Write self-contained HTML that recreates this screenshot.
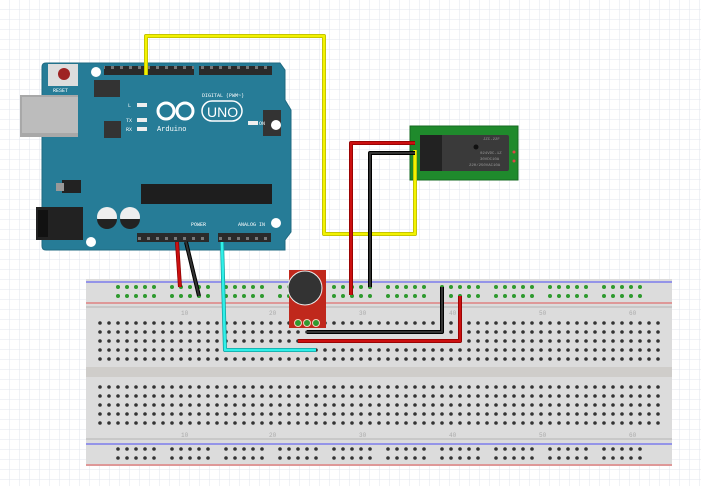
<!DOCTYPE html>
<html><head><meta charset="utf-8"><style>
html,body{margin:0;padding:0;background:#fff;}
svg{display:block;font-family:"Liberation Mono",monospace;}
</style></head><body>
<svg width="701" height="486" viewBox="0 0 701 486" xmlns="http://www.w3.org/2000/svg">
<defs>
<pattern id="grid" width="10" height="10" patternUnits="userSpaceOnUse">
<path d="M10 0V10H0" fill="none" stroke="#e2e5ee" stroke-width="1"/>
</pattern>
<pattern id="hole" x="95.5" y="318.5" width="9" height="9" patternUnits="userSpaceOnUse">
<circle cx="4.5" cy="4.5" r="1.8" fill="#333"/>
</pattern>
<pattern id="hole2" x="95.5" y="382.5" width="9" height="9" patternUnits="userSpaceOnUse">
<circle cx="4.5" cy="4.5" r="1.8" fill="#333"/>
</pattern>
<pattern id="railg" x="113.5" y="282.5" width="54" height="9" patternUnits="userSpaceOnUse">
<g fill="#2e9a2e"><circle cx="4.5" cy="4.5" r="2"/><circle cx="13.5" cy="4.5" r="2"/><circle cx="22.5" cy="4.5" r="2"/><circle cx="31.5" cy="4.5" r="2"/><circle cx="40.5" cy="4.5" r="2"/></g>
</pattern>
<pattern id="railb" x="113.5" y="444.5" width="54" height="9" patternUnits="userSpaceOnUse">
<g fill="#333"><circle cx="4.5" cy="4.5" r="1.8"/><circle cx="13.5" cy="4.5" r="1.8"/><circle cx="22.5" cy="4.5" r="1.8"/><circle cx="31.5" cy="4.5" r="1.8"/><circle cx="40.5" cy="4.5" r="1.8"/></g>
</pattern>
<pattern id="pins" x="0" y="0" width="9" height="9" patternUnits="userSpaceOnUse">
<rect x="3" y="3" width="3" height="3" fill="#777"/>
</pattern>
</defs>
<rect width="701" height="486" fill="url(#grid)"/>

<!-- breadboard -->
<rect x="86" y="279" width="586" height="187" fill="#dcdcdc"/>
<rect x="86" y="306" width="586" height="2" fill="#c8c8c8"/>
<rect x="86" y="367" width="586" height="10" fill="#cfcdca"/>
<rect x="86" y="438" width="586" height="2" fill="#c8c8c8"/>
<line x1="86" y1="282" x2="672" y2="282" stroke="#6a6af0" stroke-width="1.2"/>
<line x1="86" y1="303" x2="672" y2="303" stroke="#e07070" stroke-width="1.2"/>
<line x1="86" y1="444" x2="672" y2="444" stroke="#6a6af0" stroke-width="1.2"/>
<line x1="86" y1="465" x2="672" y2="465" stroke="#e07070" stroke-width="1.2"/>
<rect x="113" y="282" width="536" height="18" fill="url(#railg)"/>
<rect x="113" y="444" width="536" height="18" fill="url(#railb)"/>
<rect x="95" y="318" width="567" height="45" fill="url(#hole)"/>
<rect x="95" y="382" width="567" height="45" fill="url(#hole2)"/>
<g font-size="6" fill="#aaa">
<text x="181" y="315">10</text><text x="269" y="315">20</text><text x="359" y="315">30</text><text x="449" y="315">40</text><text x="539" y="315">50</text><text x="629" y="315">60</text>
<text x="181" y="437">10</text><text x="269" y="437">20</text><text x="359" y="437">30</text><text x="449" y="437">40</text><text x="539" y="437">50</text><text x="629" y="437">60</text>
</g>

<!-- arduino -->
<path d="M46 63 H280 L285 70 V100 L291 110 V232 L285 240 V250 H46 Q42 250 42 246 V67 Q42 63 46 63Z" fill="#267c97" stroke="#1f6a82" stroke-width="1"/>
<rect x="20" y="95" width="58" height="42" fill="#a8a8a8"/><rect x="22" y="97" width="56" height="36" fill="#bcbcbc"/>
<rect x="36" y="207" width="47" height="33" fill="#222"/><rect x="38" y="210" width="10" height="27" fill="#111"/>
<rect x="48" y="64" width="30" height="22" fill="#ddd"/><circle cx="64" cy="74" r="6" fill="#9e2323"/>
<text x="53" y="92" font-size="5" fill="#fff">RESET</text>
<rect x="94" y="80" width="26" height="17" fill="#333"/>
<rect x="104" y="66" width="90" height="9" fill="#2a2a2a"/><rect x="104" y="66" width="90" height="9" fill="url(#pins)"/>
<rect x="199" y="66" width="73" height="9" fill="#2a2a2a"/><rect x="199" y="66" width="73" height="9" fill="url(#pins)"/>
<rect x="137" y="233" width="72" height="9" fill="#2a2a2a"/><rect x="137" y="233" width="72" height="9" fill="url(#pins)"/>
<rect x="218" y="233" width="53" height="9" fill="#2a2a2a"/><rect x="218" y="233" width="53" height="9" fill="url(#pins)"/>
<rect x="263" y="110" width="18" height="26" fill="#333"/>
<rect x="104" y="121" width="17" height="17" fill="#333"/>
<rect x="141" y="184" width="131" height="20" fill="#1e1e1e"/>
<rect x="62" y="180" width="19" height="13" fill="#222"/><rect x="56" y="183" width="8" height="8" fill="#999"/>
<circle cx="107" cy="217" r="10" fill="#eee"/><path d="M97 219 A10 10 0 0 0 117 219Z" fill="#222"/>
<circle cx="130" cy="217" r="10" fill="#eee"/><path d="M120 219 A10 10 0 0 0 140 219Z" fill="#222"/>
<circle cx="96" cy="72" r="5" fill="#fff"/><circle cx="276" cy="125" r="5" fill="#fff"/><circle cx="276" cy="223" r="5" fill="#fff"/><circle cx="91" cy="242" r="5" fill="#fff"/>
<rect x="137" y="103" width="10" height="4" fill="#eee"/><rect x="137" y="118" width="10" height="4" fill="#eee"/><rect x="137" y="127" width="10" height="4" fill="#eee"/><rect x="248" y="121" width="10" height="4" fill="#eee"/>
<g fill="none" stroke="#fff" stroke-width="3"><circle cx="166" cy="111" r="8"/><circle cx="185" cy="111" r="8"/></g>
<rect x="202" y="101" width="40" height="20" rx="10" fill="none" stroke="#fff" stroke-width="1.5"/>
<text x="207" y="117" font-size="14" fill="#fff" font-family="Liberation Sans,sans-serif">UNO</text>
<text x="157" y="131" font-size="7" fill="#fff">Arduino</text>
<g font-size="5" fill="#fff"><text x="128" y="107">L</text><text x="126" y="122">TX</text><text x="126" y="131">RX</text><text x="259" y="125">ON</text><text x="202" y="97">DIGITAL (PWM~)</text><text x="191" y="226">POWER</text><text x="238" y="226">ANALOG IN</text></g>

<!-- relay -->
<rect x="410" y="126" width="108" height="54" fill="#1f8a2c" stroke="#166a20"/>
<rect x="420" y="135" width="89" height="36" fill="#3a3a3a" rx="2"/>
<rect x="420" y="135" width="22" height="36" fill="#222"/>
<circle cx="476" cy="147" r="2.5" fill="#111"/>
<g font-size="4" fill="#999"><text x="483" y="140">JZC-22F</text><text x="480" y="154">024VDC-1Z</text><text x="480" y="160">30VDC10A</text><text x="469" y="166">220/250VAC10A</text></g>
<circle cx="514" cy="152" r="1.5" fill="#d44"/><circle cx="514" cy="161" r="1.5" fill="#d44"/>

<!-- mic -->
<rect x="289" y="270" width="37" height="58" fill="#c0281c"/>
<circle cx="305" cy="288" r="17" fill="#333" stroke="#eee" stroke-width="1"/>
<g fill="#2f9a2f" stroke="#f5d0c0"><circle cx="298" cy="323" r="3.5"/><circle cx="307" cy="323" r="3.5"/><circle cx="316" cy="323" r="3.5"/></g>

<!-- wires -->
<g fill="none" stroke-linejoin="round">
<polyline points="146,75 146,36 324,36 324,234 415,234 415,150" stroke="#b8b800" stroke-width="4"/>
<polyline points="146,75 146,36 324,36 324,234 415,234 415,150" stroke="#f2f200" stroke-width="2.5"/>
<polyline points="415,143 351,143 351,295" stroke="#8a0000" stroke-width="4"/>
<polyline points="415,143 351,143 351,295" stroke="#cc1010" stroke-width="2.5"/>
<polyline points="415,153 370,153 370,287" stroke="#000" stroke-width="4"/>
<polyline points="415,153 370,153 370,287" stroke="#333" stroke-width="2"/>
<polyline points="177,242 180,287" stroke="#8a0000" stroke-width="4"/>
<polyline points="177,242 180,287" stroke="#cc1010" stroke-width="2.5"/>
<polyline points="186,242 199,296" stroke="#000" stroke-width="4"/>
<polyline points="186,242 199,296" stroke="#333" stroke-width="2"/>
<polyline points="222,242 225,350 316,350" stroke="#10a0a0" stroke-width="4"/>
<polyline points="222,242 225,350 316,350" stroke="#30f0e8" stroke-width="2.5"/>
<polyline points="307,332 442,332 442,287" stroke="#000" stroke-width="4"/>
<polyline points="307,332 442,332 442,287" stroke="#333" stroke-width="2"/>
<polyline points="298,341 460,341 460,296" stroke="#8a0000" stroke-width="4"/>
<polyline points="298,341 460,341 460,296" stroke="#cc1010" stroke-width="2.5"/>
</g>
</svg>
</body></html>
